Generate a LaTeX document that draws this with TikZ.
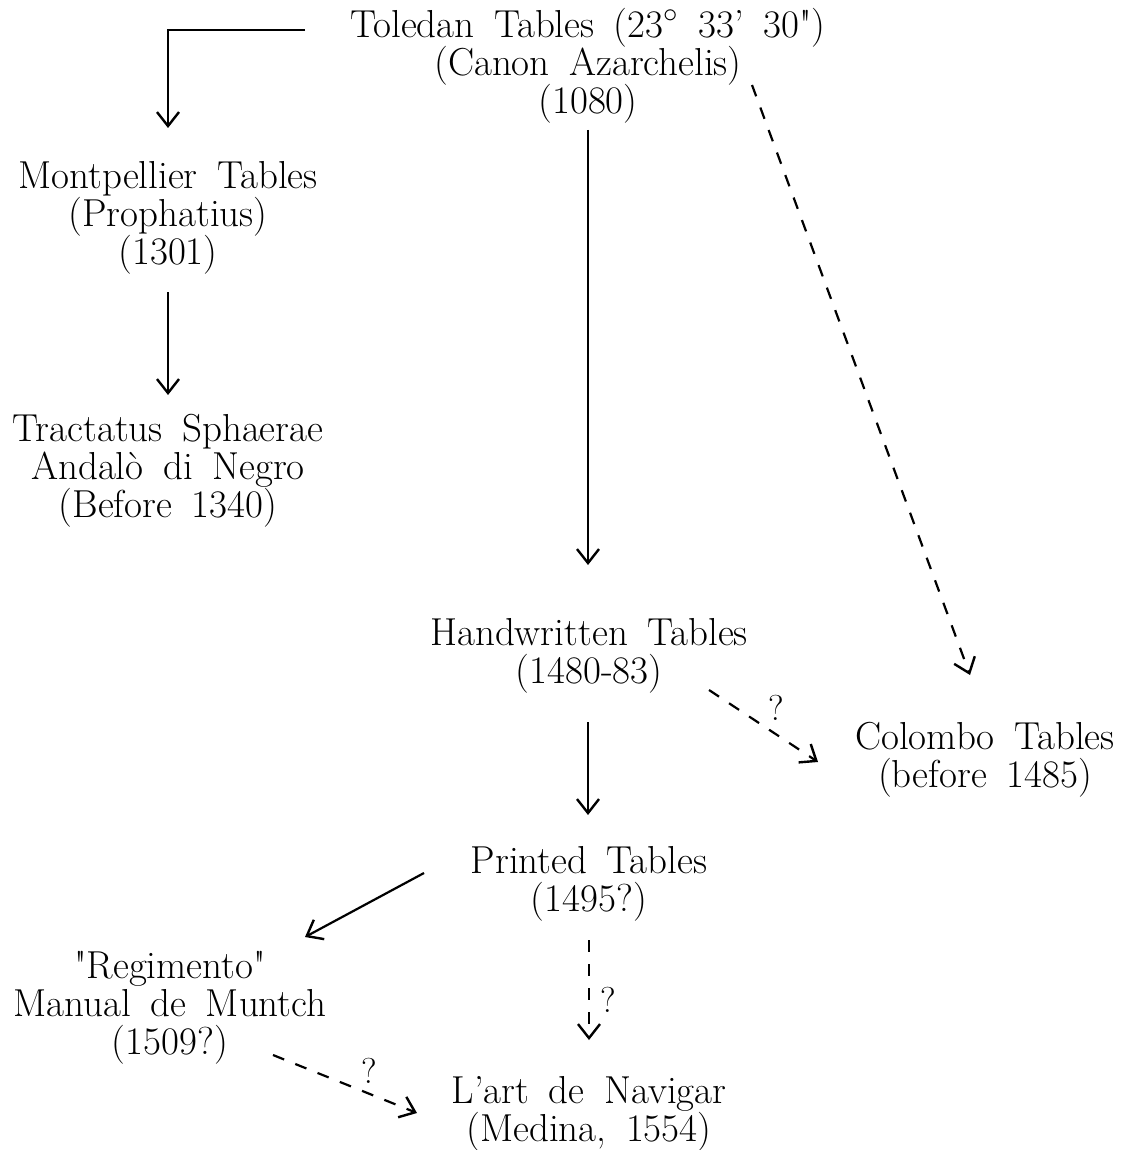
\documentclass[tikz,border=0pt]{standalone}
\usepackage{tikz}
\usetikzlibrary{arrows.meta}

\newcommand{\tablefont}{\fontsize{19.5}{19}\selectfont\lineskiplimit=-20pt\relax\spaceskip=0.5em plus 0.1em\relax}
\tikzset{
  tablebox/.style={align=center,inner sep=2pt,font=\tablefont},
  flow/.style={-{Straight Barb[length=7pt,width=11pt,line width=1.2pt]},line width=1.1pt},
  guess/.style={flow,dash pattern=on 6pt off 6pt},
  qmark/.style={font=\fontsize{18}{18}\selectfont,inner sep=2pt}
}

\begin{document}
\begin{tikzpicture}[x=0.5pt,y=-0.5pt]
\useasboundingbox (0,0) rectangle (1138,1150);
\node[tablebox] (toledan) at (588,66) {Toledan Tables (23$^\circ$\ 33' 30\textquotedbl)\\(Canon Azarchelis)\\(1080)};
\node[tablebox] (montpellier) at (168,218) {Montpellier Tables\\(Prophatius)\\(1301)};
\node[tablebox] (tractatus) at (168,471) {Tractatus Sphaerae\\Andal\`o di Negro\\(Before 1340)};
\node[tablebox] (handwritten) at (589,656) {Handwritten Tables\\(1480-83)};
\node[tablebox] (colombo) at (985,760) {Colombo Tables\\(before 1485)};
\node[tablebox] (printed) at (589,884) {Printed Tables\\(1495?)};
\node[tablebox] (regimento) at (170,1008) {\textquotedbl Regimento\textquotedbl\\Manual de Muntch\\(1509?)};
\node[tablebox] (lart) at (589,1114) {L'art de Navigar\\(Medina, 1554)};
\coordinate (tolstart) at (305,30);
\coordinate (montend) at (168,128);
\draw[flow] (tolstart) -| (montend);
\path (toledan) ++(0,64) coordinate (t1) (handwritten) ++(-1,-91) coordinate (h1);
\draw[flow] (t1) -- (h1);
\path (toledan) ++(164,19) coordinate (t2) (colombo) ++(-15,-85) coordinate (c1);
\draw[guess] (t2) -- (c1);
\path (montpellier) ++(0,74) coordinate (m1) (tractatus) ++(0,-76) coordinate (tr1);
\draw[flow] (m1) -- (tr1);
\path (handwritten) ++(-1,66) coordinate (h2) (printed) ++(-1,-69) coordinate (p1);
\draw[flow] (h2) -- (p1);
\path (handwritten) ++(120,34) coordinate (h3) (colombo) ++(-167,2) coordinate (c2);
\draw[guess] (h3) -- node[qmark,above right,pos=0.5] {?} (c2);
\path (printed) ++(-165,-11) coordinate (p2) (regimento) ++(135,-71) coordinate (r1);
\draw[flow] (p2) -- (r1);
\path (printed) ++(0,56) coordinate (p3) (lart) ++(0,-74) coordinate (l1);
\draw[guess] (p3) -- node[qmark,right=3pt,pos=0.6] {?} (l1);
\path (regimento) ++(103,47) coordinate (r2) (lart) ++(-172,-1) coordinate (l2);
\draw[guess] (r2) -- node[qmark,above right,pos=0.58] {?} (l2);
\end{tikzpicture}
\end{document}
